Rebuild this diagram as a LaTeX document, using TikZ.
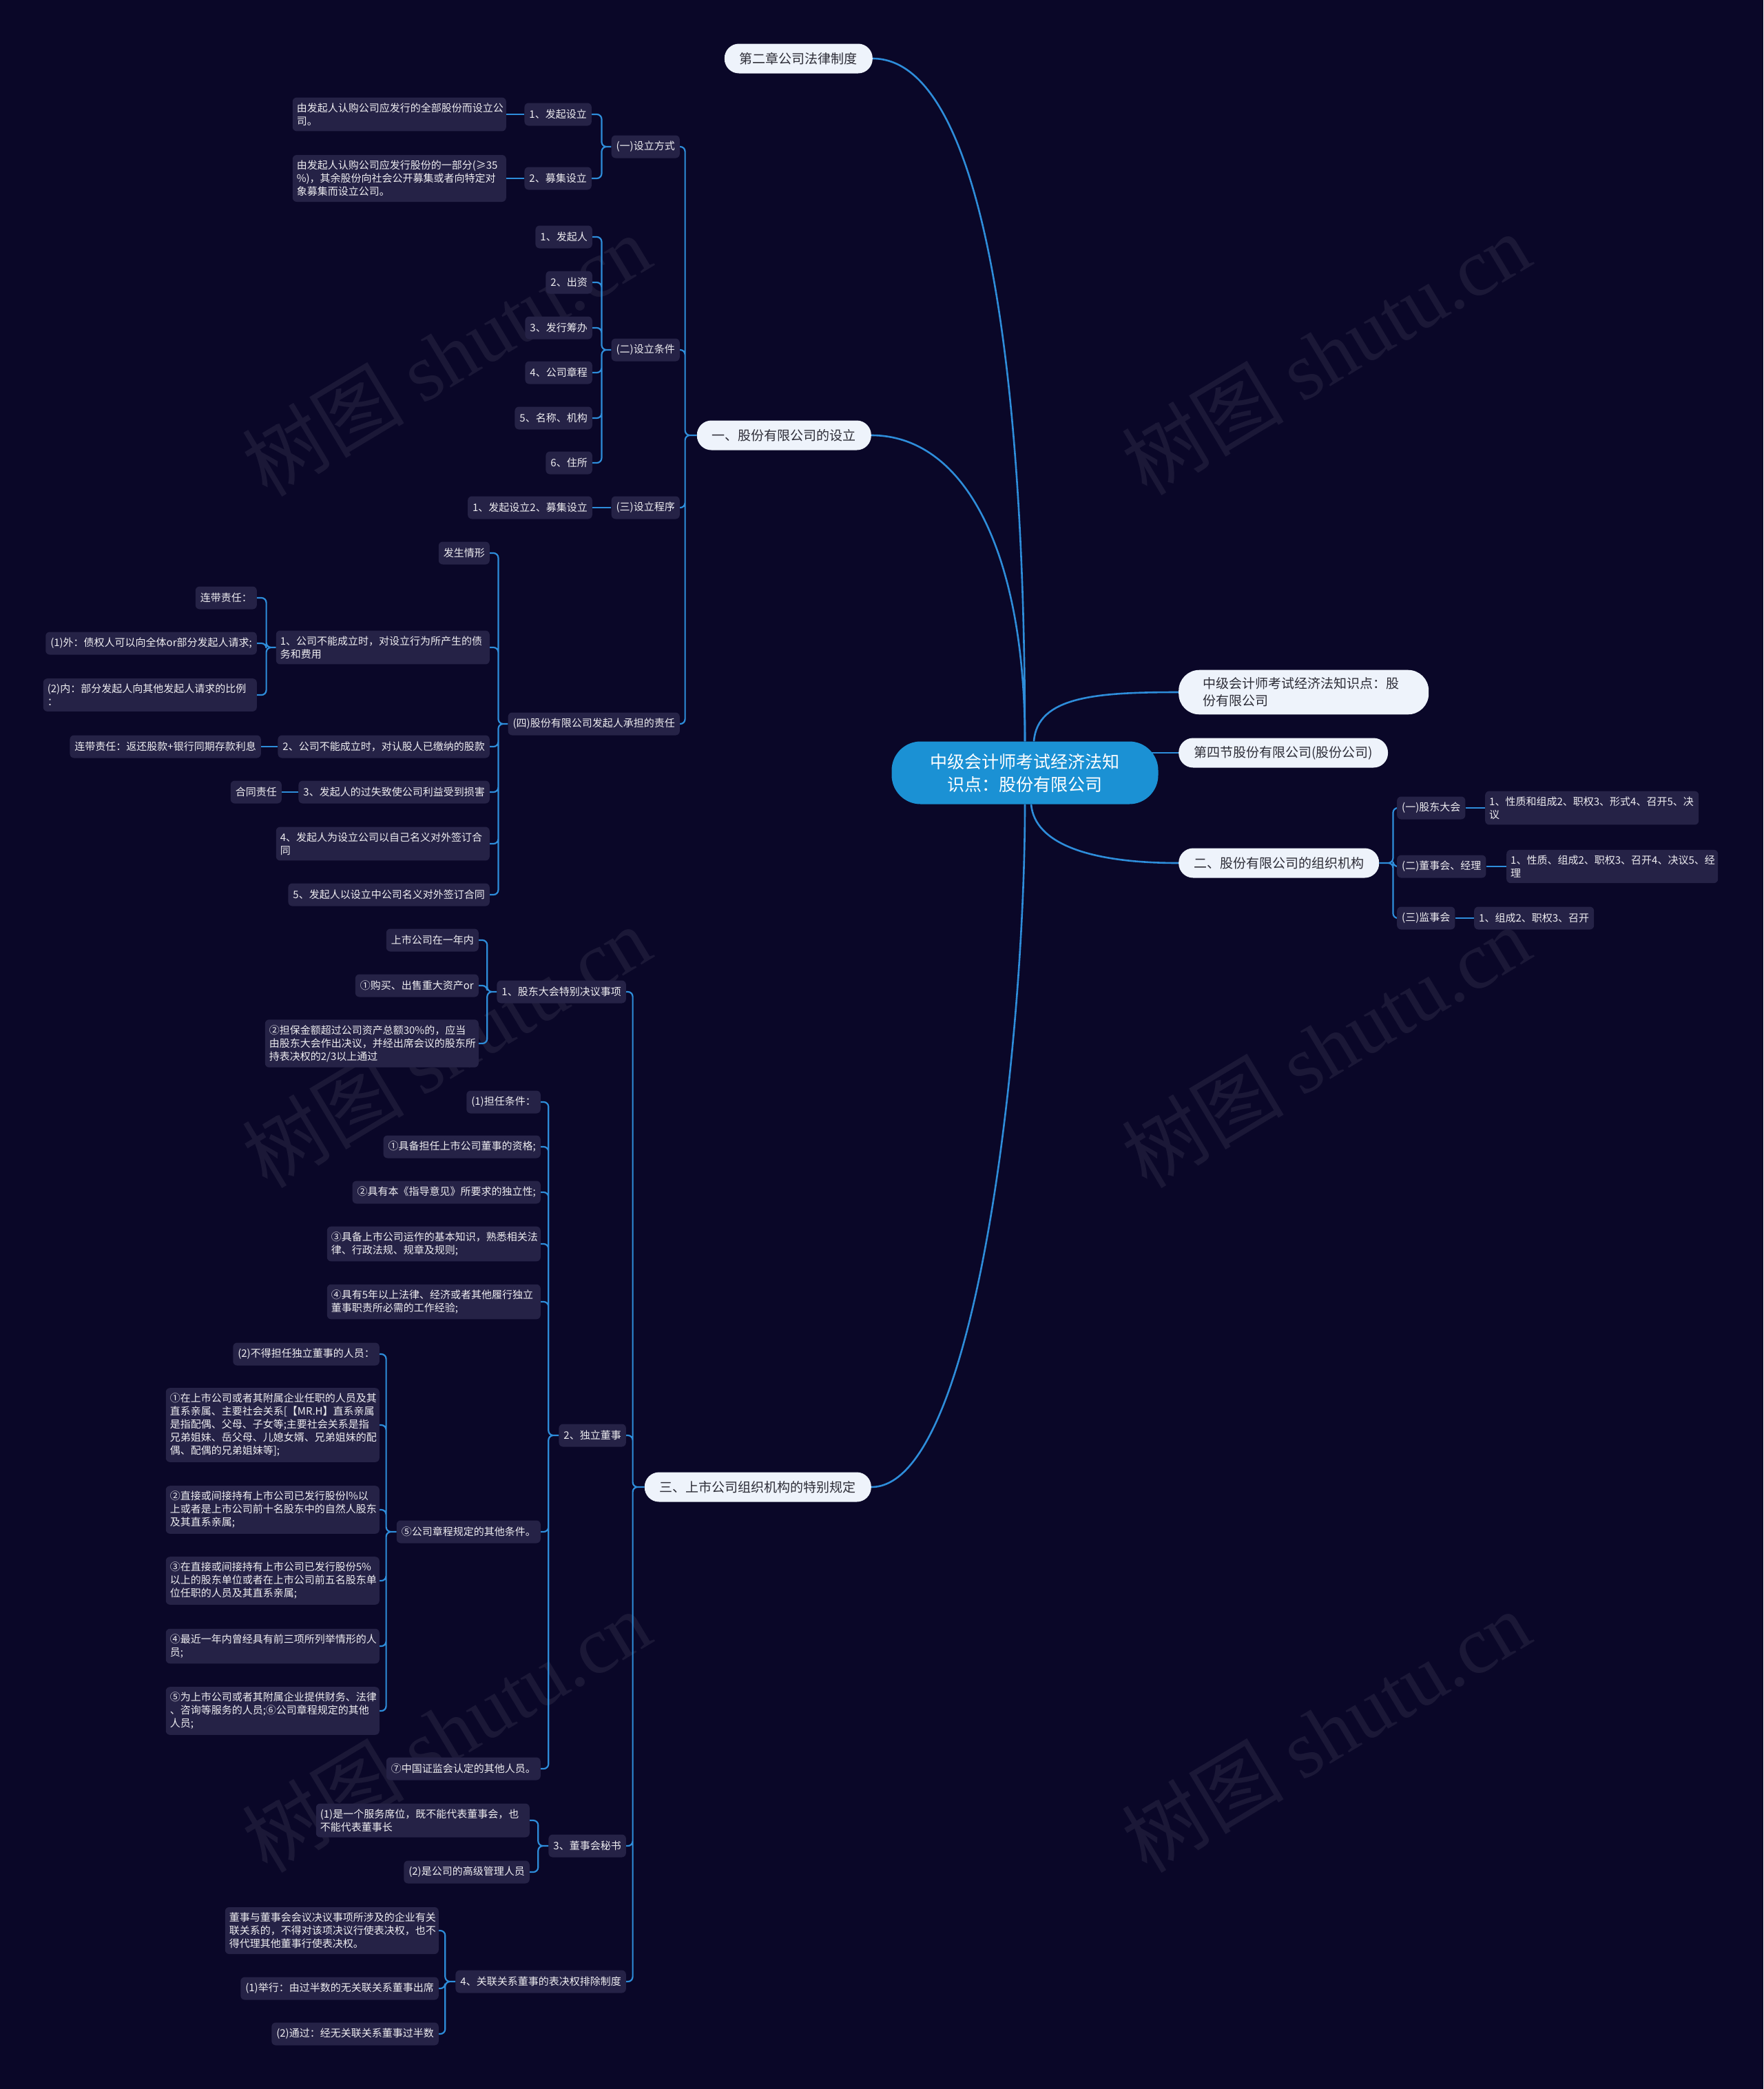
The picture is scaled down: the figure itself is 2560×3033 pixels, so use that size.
\documentclass[tikz,border=0pt]{standalone}
\usepackage{fontspec}
\setmainfont{Noto Sans CJK SC}
\newfontfamily\wmserif{Liberation Serif}
\usetikzlibrary{backgrounds}
\definecolor{bgnavy}{RGB}{10,7,40}
\definecolor{boxfill}{RGB}{37,34,70}
\definecolor{linkblue}{RGB}{46,141,218}
\definecolor{rootblue}{RGB}{27,145,212}
\definecolor{topicfill}{RGB}{238,243,251}
\definecolor{topictext}{RGB}{45,45,55}
\tikzset{
  root/.style={fill=rootblue, text=white, rounded corners=42pt, align=center,
    minimum width=387pt, minimum height=91pt, font=\fontsize{25}{33}\selectfont},
  topic/.style={fill=topicfill, text=topictext, rounded corners=21pt, inner xsep=22pt,
    inner ysep=11pt, minimum height=43pt, font=\fontsize{19}{25}\selectfont},
  leaf/.style={fill=boxfill, text=white!92!boxfill, rounded corners=6pt, inner xsep=7pt,
    inner ysep=8pt, minimum height=33pt, anchor=east, font=\fontsize{15}{19}\selectfont},
  wide/.style={leaf, inner xsep=6pt, text width=298pt, align=left},
  link/.style={draw=linkblue, line width=2.2pt, rounded corners=7pt},
  trunk/.style={draw=linkblue, line width=2.6pt},
  watermark/.style={text=white!7!bgnavy, rotate=31, font=\fontsize{118}{118}\selectfont}
}

\begin{document}
\begin{tikzpicture}[x=1pt, y=-1pt]
  \useasboundingbox (0,0) rectangle (2560,3033);
  % centre and main topics
  \node[root] (root) at (1488,1122) {中级会计师考试经济法知\\识点：股份有限公司};
  \node[topic, anchor=east] (ch2) at (1267,85) {第二章公司法律制度};
  \node[topic, anchor=east] (s1) at (1265,632) {一、股份有限公司的设立};
  \node[topic, anchor=east] (s3) at (1265,2159) {三、上市公司组织机构的特别规定};
  \node[topic, anchor=west, rounded corners=30pt, inner xsep=35pt, text width=293pt, align=left]
    (kp) at (1711,1005) {中级会计师考试经济法知识点：股\\份有限公司};
  \node[topic, anchor=west] (sec4) at (1711,1093) {第四节股份有限公司(股份公司)};
  \node[topic, anchor=west] (s2) at (1711,1253) {二、股份有限公司的组织机构};

  % 二、organisation bodies
  \node[leaf, anchor=west] (r1) at (2028,1173) {(一)股东大会};
  \node[leaf, anchor=west] (r2) at (2028,1258) {(二)董事会、经理};
  \node[leaf, anchor=west] (r3) at (2028,1333) {(三)监事会};
  \node[wide, anchor=west] (r1a) at (2156,1173) {1、性质和组成2、职权3、形式4、召开5、决\\议};
  \node[wide, anchor=west, text width=295pt] (r2a) at (2187,1258) {1、性质、组成2、职权3、召开4、决议5、经\\理};
  \node[leaf, anchor=west] (r3a) at (2140,1333) {1、组成2、职权3、召开};

  % 一、setting up
  \node[leaf] (fs) at (987,213) {(一)设立方式};
  \node[leaf] (tj) at (987,508) {(二)设立条件};
  \node[leaf] (cx) at (987,737) {(三)设立程序};
  \node[leaf] (zr) at (987,1051) {(四)股份有限公司发起人承担的责任};
  \node[leaf] (fs1) at (859,166) {1、发起设立};
  \node[leaf] (fs2) at (859,259) {2、募集设立};
  \node[wide] (fs1a) at (735,166) {由发起人认购公司应发行的全部股份而设立公\\司。};
  \node[wide] (fs2a) at (735,259) {由发起人认购公司应发行股份的一部分(≥35\\\%)，其余股份向社会公开募集或者向特定对\\象募集而设立公司。};
  \node[leaf] (tj1) at (860,344) {1、发起人};
  \node[leaf] (tj2) at (860,410) {2、出资};
  \node[leaf] (tj3) at (860,476) {3、发行筹办};
  \node[leaf] (tj4) at (860,541) {4、公司章程};
  \node[leaf] (tj5) at (860,607) {5、名称、机构};
  \node[leaf] (tj6) at (860,672) {6、住所};
  \node[leaf] (cx1) at (860,737) {1、发起设立2、募集设立};
  \node[leaf] (zr0) at (711,803) {发生情形};
  \node[wide] (zr1) at (711,940) {1、公司不能成立时，对设立行为所产生的债\\务和费用};
  \node[leaf] (zr2) at (711,1084) {2、公司不能成立时，对认股人已缴纳的股款};
  \node[leaf] (zr3) at (711,1150) {3、发起人的过失致使公司利益受到损害};
  \node[wide] (zr4) at (711,1225) {4、发起人为设立公司以自己名义对外签订合\\同};
  \node[leaf] (zr5) at (711,1299) {5、发起人以设立中公司名义对外签订合同};
  \node[leaf] (zr1a) at (373,868) {连带责任：};
  \node[leaf] (zr1b) at (373,934) {(1)外：债权人可以向全体or部分发起人请求;};
  \node[wide] (zr1c) at (373,1009) {(2)内：部分发起人向其他发起人请求的比例\\：};
  \node[leaf] (zr2a) at (379,1084) {连带责任：返还股款+银行同期存款利息};
  \node[leaf] (zr3a) at (409,1150) {合同责任};

  % 三、listed companies
  \node[leaf] (gd) at (909,1440) {1、股东大会特别决议事项};
  \node[leaf] (dd) at (909,2084) {2、独立董事};
  \node[leaf] (ms) at (909,2680) {3、董事会秘书};
  \node[leaf] (gl) at (909,2877) {4、关联关系董事的表决权排除制度};
  \node[leaf] (gd1) at (695,1365) {上市公司在一年内};
  \node[leaf] (gd2) at (695,1431) {①购买、出售重大资产or};
  \node[wide] (gd3) at (695,1515) {②担保金额超过公司资产总额30\%的，应当\\由股东大会作出决议，并经出席会议的股东所\\持表决权的2/3以上通过};
  \node[leaf] (dd1) at (785,1600) {(1)担任条件：};
  \node[leaf] (dd2) at (785,1665) {①具备担任上市公司董事的资格;};
  \node[leaf] (dd3) at (785,1731) {②具有本《指导意见》所要求的独立性;};
  \node[wide] (dd4) at (785,1806) {③具备上市公司运作的基本知识，熟悉相关法\\律、行政法规、规章及规则;};
  \node[wide] (dd5) at (785,1890) {④具有5年以上法律、经济或者其他履行独立\\董事职责所必需的工作经验;};
  \node[leaf] (dd6) at (785,2224) {⑤公司章程规定的其他条件。};
  \node[leaf] (dd7) at (785,2568) {⑦中国证监会认定的其他人员。};
  \node[leaf] (nq0) at (551,1966) {(2)不得担任独立董事的人员：};
  \node[wide] (nq1) at (551,2069) {①在上市公司或者其附属企业任职的人员及其\\直系亲属、主要社会关系[【MR.H】直系亲属\\是指配偶、父母、子女等;主要社会关系是指\\兄弟姐妹、岳父母、儿媳女婿、兄弟姐妹的配\\偶、配偶的兄弟姐妹等];};
  \node[wide] (nq2) at (551,2192) {②直接或间接持有上市公司已发行股份l\%以\\上或者是上市公司前十名股东中的自然人股东\\及其直系亲属;};
  \node[wide] (nq3) at (551,2295) {③在直接或间接持有上市公司已发行股份5\%\\以上的股东单位或者在上市公司前五名股东单\\位任职的人员及其直系亲属;};
  \node[wide] (nq4) at (551,2390) {④最近一年内曾经具有前三项所列举情形的人\\员;};
  \node[wide] (nq5) at (551,2484) {⑤为上市公司或者其附属企业提供财务、法律\\、咨询等服务的人员;⑥公司章程规定的其他\\人员;};
  \node[wide] (ms1) at (769,2643) {(1)是一个服务席位，既不能代表董事会，也\\不能代表董事长};
  \node[leaf] (ms2) at (769,2718) {(2)是公司的高级管理人员};
  \node[wide] (gl1) at (637,2803) {董事与董事会会议决议事项所涉及的企业有关\\联关系的，不得对该项决议行使表决权，也不\\得代理其他董事行使表决权。};
  \node[leaf] (gl2) at (637,2887) {(1)举行：由过半数的无关联关系董事出席};
  \node[leaf] (gl3) at (637,2953) {(2)通过：经无关联关系董事过半数};

  \begin{scope}[on background layer]
    \fill[bgnavy] (0,0) rectangle (2560,3033);
    \foreach \wx/\wy in {648/515, 1925/513, 648/1519, 1925/1519, 648/2513, 1925/2513}
      \node[watermark] at (\wx,\wy) {树图 {\wmserif shutu.cn}};
    % trunk curves from the centre
    \draw[trunk] (root.north) .. controls +(0,-576) and +(153,0) .. (ch2.east);
    \draw[trunk] (root.north) .. controls +(0,-276) and +(135,0) .. (s1.east);
    \draw[trunk] (root.south) .. controls +(0,332) and +(155,0) .. (s3.east);
    \draw[trunk] ([xshift=13pt]root.north) .. controls +(5,-65) and +(-120,0) .. (kp.west);
    \draw[trunk] (sec4.west -| root.center) -- (sec4.west);
    \draw[trunk] ([xshift=9pt]root.south) .. controls +(5,57) and +(-130,0) .. (s2.west);
    % right branch
    \draw[link] (s2.east) -- ++(20,0) |- (r1.west) (s2.east) -- ++(20,0) |- (r2.west)
      (s2.east) -- ++(20,0) |- (r3.west);
    \draw[link] (r1.east) -- (r1a.west) (r2.east) -- (r2a.west) (r3.east) -- (r3a.west);
    % left branch 一
    \draw[link] (s1.west) -- ++(-17,0) |- (fs.east) (s1.west) -- ++(-17,0) |- (tj.east)
      (s1.west) -- ++(-17,0) |- (cx.east) (s1.west) -- ++(-17,0) |- (zr.east);
    \draw[link] (fs.west) -- ++(-14,0) |- (fs1.east) (fs.west) -- ++(-14,0) |- (fs2.east);
    \draw[link] (fs1.west) -- (fs1a.east) (fs2.west) -- (fs2a.east) (cx.west) -- (cx1.east);
    \draw[link] (tj.west) -- ++(-14,0) |- (tj1.east) (tj.west) -- ++(-14,0) |- (tj2.east)
      (tj.west) -- ++(-14,0) |- (tj3.east) (tj.west) -- ++(-14,0) |- (tj4.east)
      (tj.west) -- ++(-14,0) |- (tj5.east) (tj.west) -- ++(-14,0) |- (tj6.east);
    \draw[link] (zr.west) -- ++(-14,0) |- (zr0.east) (zr.west) -- ++(-14,0) |- (zr1.east)
      (zr.west) -- ++(-14,0) |- (zr2.east) (zr.west) -- ++(-14,0) |- (zr3.east)
      (zr.west) -- ++(-14,0) |- (zr4.east) (zr.west) -- ++(-14,0) |- (zr5.east);
    \draw[link] (zr1.west) -- ++(-14,0) |- (zr1a.east) (zr1.west) -- ++(-14,0) |- (zr1b.east)
      (zr1.west) -- ++(-14,0) |- (zr1c.east);
    \draw[link] (zr2.west) -- (zr2a.east) (zr3.west) -- (zr3a.east);
    % left branch 三
    \draw[link] (s3.west) -- ++(-17,0) |- (gd.east) (s3.west) -- ++(-17,0) |- (dd.east)
      (s3.west) -- ++(-17,0) |- (ms.east) (s3.west) -- ++(-17,0) |- (gl.east);
    \draw[link] (gd.west) -- ++(-14,0) |- (gd1.east) (gd.west) -- ++(-14,0) |- (gd2.east)
      (gd.west) -- ++(-14,0) |- (gd3.east);
    \draw[link] (dd.west) -- ++(-15,0) |- (dd1.east) (dd.west) -- ++(-15,0) |- (dd2.east)
      (dd.west) -- ++(-15,0) |- (dd3.east) (dd.west) -- ++(-15,0) |- (dd4.east)
      (dd.west) -- ++(-15,0) |- (dd5.east) (dd.west) -- ++(-15,0) |- (dd6.east)
      (dd.west) -- ++(-15,0) |- (dd7.east);
    \draw[link] (dd6.west) -- ++(-15,0) |- (nq0.east) (dd6.west) -- ++(-15,0) |- (nq1.east)
      (dd6.west) -- ++(-15,0) |- (nq2.east) (dd6.west) -- ++(-15,0) |- (nq3.east)
      (dd6.west) -- ++(-15,0) |- (nq4.east) (dd6.west) -- ++(-15,0) |- (nq5.east);
    \draw[link] (ms.west) -- ++(-15,0) |- (ms1.east) (ms.west) -- ++(-15,0) |- (ms2.east);
    \draw[link] (gl.west) -- ++(-15,0) |- (gl1.east) (gl.west) -- ++(-15,0) |- (gl2.east)
      (gl.west) -- ++(-15,0) |- (gl3.east);
  \end{scope}
\end{tikzpicture}
\end{document}
